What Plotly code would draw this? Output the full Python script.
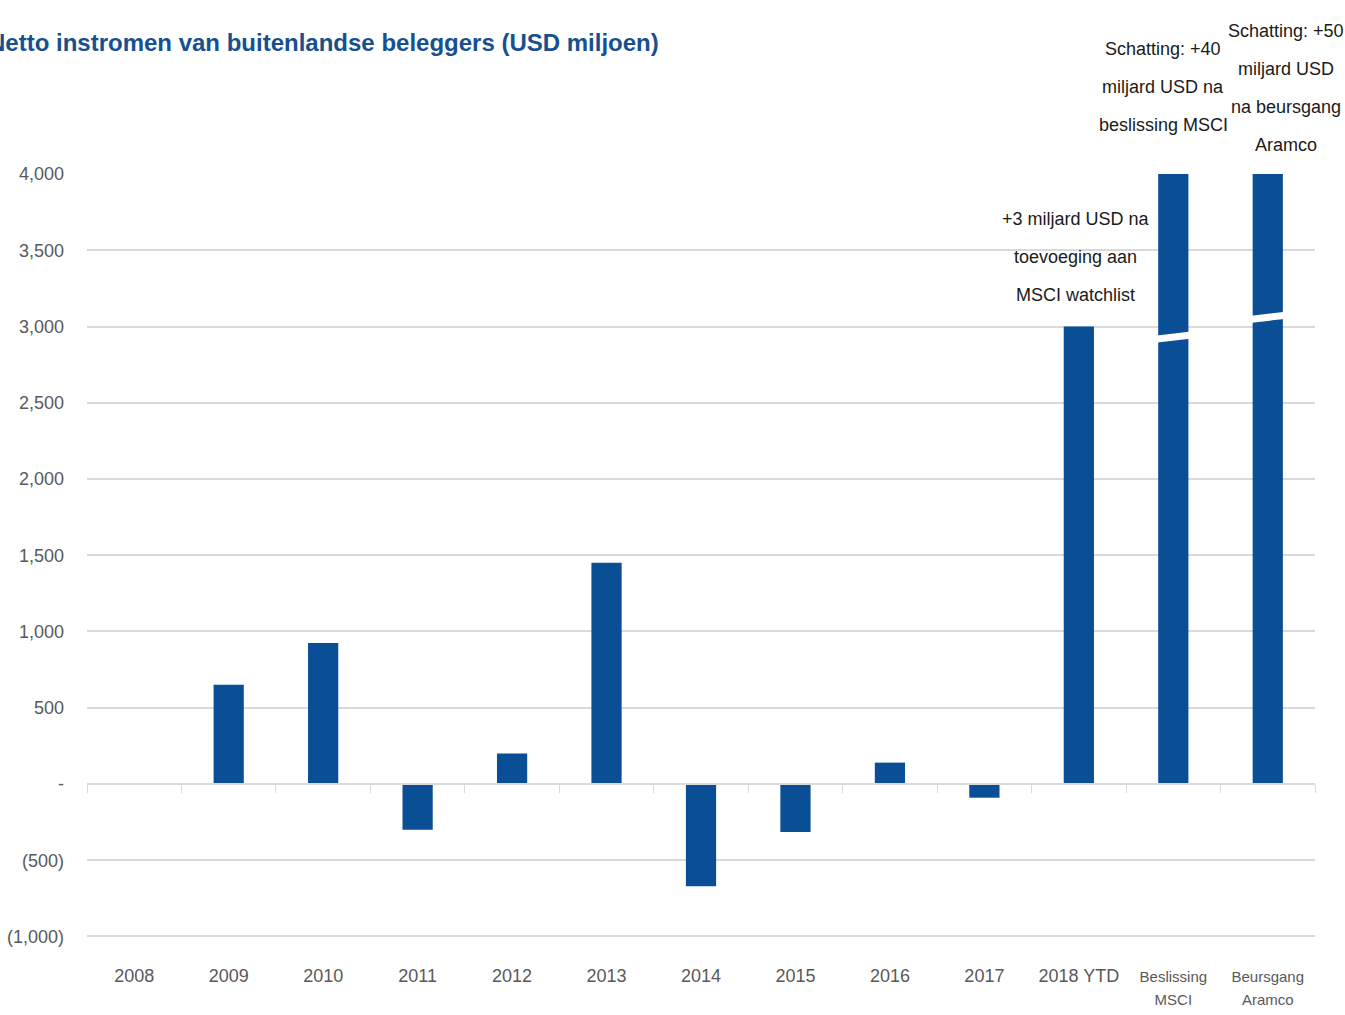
import plotly.graph_objects as go

categories = ["2008", "2009", "2010", "2011", "2012", "2013", "2014", "2015",
              "2016", "2017", "2018 YTD", "Beslissing MSCI", "Beursgang Aramco"]
tick_labels = ["2008", "2009", "2010", "2011", "2012", "2013", "2014", "2015",
               "2016", "2017", "2018 YTD",
               "<span style='font-size:15px'>Beslissing<br>MSCI</span>",
               "<span style='font-size:15px'>Beursgang<br>Aramco</span>"]
values = [0, 650, 925, -300, 200, 1450, -670, -315, 140, -90, 3000, 4000, 4000]
break_cats = [11, 12]
break_values = [2930, 3060]

y_tickvals = [4000, 3500, 3000, 2500, 2000, 1500, 1000, 500, 0, -500, -1000]
y_ticktext = ["4,000", "3,500", "3,000", "2,500", "2,000", "1,500", "1,000", "500", "-", "(500)", "(1,000)"]

title_text = "Netto instromen van buitenlandse beleggers (USD miljoen)"
note_ytd = ["+3 miljard USD na", "toevoeging aan", "MSCI watchlist"]
note_msci = ["Schatting: +40", "miljard USD na", "beslissing MSCI"]
note_aramco = ["Schatting: +50", "miljard USD", "na beursgang", "Aramco"]

FONT = "Liberation Sans, Arial, sans-serif"
BAR = "#0a4f96"
GRID = "#d9d9d9"
TXT = "#595959"

fig = go.Figure()
fig.add_trace(go.Bar(x=categories, y=values, marker_color=BAR, marker_line_width=0,
                     showlegend=False, hoverinfo="x+y"))
fig.add_trace(go.Scatter(x=categories, y=values, xaxis="x2", mode="markers",
                         marker=dict(opacity=0), showlegend=False, hoverinfo="skip"))

shapes = []
for ci, bv in zip(break_cats, break_values):
    shapes.append(dict(type="line", xref="x", yref="y", x0=ci - 0.17, x1=ci + 0.17,
                       y0=bv - 12, y1=bv + 12, line=dict(color="white", width=7)))

annotations = []
def add_lines(lines, xcat, ybase, yshift0, xshift, spacing=38):
    n = len(lines)
    for k, line in enumerate(lines):
        annotations.append(dict(text=line, xref="x", yref="y", x=xcat, y=ybase,
                                yanchor="middle", xanchor="center", showarrow=False,
                                xshift=xshift, yshift=yshift0 + (n - 1 - k) * spacing,
                                font=dict(family=FONT, size=18, color="#1a1a1a")))

add_lines(note_ytd, categories[10], 3000, 32, -3)
add_lines(note_msci, categories[11], 4000, 49, -10)
add_lines(note_aramco, categories[12], 4000, 29, 18)

annotations.append(dict(text="<b>" + title_text + "</b>", xref="paper", yref="paper",
                        x=0, y=1, xanchor="left", yanchor="middle", xshift=-101, yshift=132,
                        showarrow=False, font=dict(family=FONT, size=24, color="#17508f")))

fig.update_layout(
    width=1345, height=1015,
    margin=dict(l=87, r=30, t=174, b=77),
    plot_bgcolor="white", paper_bgcolor="white",
    bargap=0.68,
    shapes=shapes, annotations=annotations,
    font=dict(family=FONT, size=18, color=TXT),
    xaxis=dict(type="category", categoryorder="array", categoryarray=categories,
               range=[-0.5, 12.5], autorange=False,
               tickvals=categories, ticktext=tick_labels, showline=False, showgrid=False,
               ticks="", tickangle=0, automargin=False, ticklabelstandoff=25,
               tickfont=dict(family=FONT, size=18, color=TXT)),
    xaxis2=dict(type="category", overlaying="x", matches="x", anchor="free", position=0.2016,
                showline=True, linecolor=GRID, linewidth=2, ticks="outside", tickson="boundaries",
                ticklen=8, tickcolor=GRID, tickwidth=1, showticklabels=False, showgrid=False,
                automargin=False),
    yaxis=dict(range=[-1010, 4000], autorange=False, tickvals=y_tickvals, ticktext=y_ticktext,
               showgrid=True, gridcolor=GRID, gridwidth=2, zeroline=False, showline=False,
               ticks="", automargin=False, ticklabelstandoff=22,
               tickfont=dict(family=FONT, size=18, color=TXT)),
)

fig.write_html("out.html")
